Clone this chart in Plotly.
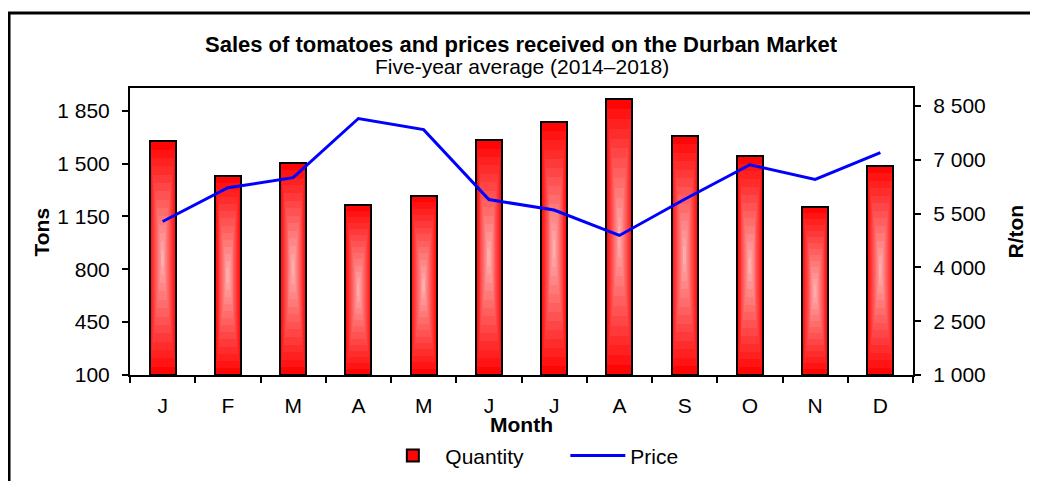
import plotly.graph_objects as go

# ---- data ----
months = ["J", "F", "M", "A", "M", "J", "J", "A", "S", "O", "N", "D"]
quantity = [1648, 1419, 1506, 1227, 1286, 1654, 1772, 1926, 1685, 1552, 1210, 1485]
price = [5280, 6220, 6500, 8150, 7840, 5890, 5600, 4890, 5900, 6860, 6450, 7200]
tons_ticks = [100, 450, 800, 1150, 1500, 1850]
tons_labels = ["100", "450", "800", "1 150", "1 500", "1 850"]
price_ticks = [1000, 2500, 4000, 5500, 7000, 8500]
price_labels = ["1 000", "2 500", "4 000", "5 500", "7 000", "8 500"]

FONT = "Liberation Sans"
FS = 21
x = list(range(len(months)))
axis_min = 100
bar_w = 0.4

fig = go.Figure()

# concentric layers to imitate the path gradient fill of the bars
N = 14
edge = (255, 0, 0)
center_c = (255, 178, 178)
for k in range(N):
    s = 1 - k / N
    f = (k + 0.5) / N
    col = tuple(round(edge[i] + (center_c[i] - edge[i]) * f) for i in range(3))
    mids = [(axis_min + q) / 2 for q in quantity]
    heights = [s * (q - axis_min) for q in quantity]
    bases = [m - h / 2 for m, h in zip(mids, heights)]
    fig.add_trace(go.Bar(
        x=x, y=heights, base=bases, width=bar_w * s,
        marker=dict(color="rgb(%d,%d,%d)" % col,
                    line=dict(color="black", width=2 if k == 0 else 0)),
        name="Quantity", showlegend=(k == 0), hoverinfo="skip",
    ))

# outline on top
fig.add_trace(go.Bar(
    x=x, y=[q - axis_min for q in quantity], base=[axis_min] * len(quantity),
    width=bar_w, marker=dict(color="rgba(0,0,0,0)", line=dict(color="black", width=2)),
    showlegend=False, hoverinfo="skip",
))

fig.add_trace(go.Scatter(
    x=x, y=price, mode="lines", name="Price", yaxis="y2",
    line=dict(color="#0000FF", width=3),
))

axis_common = dict(
    showline=True, linecolor="black", linewidth=2,
    ticks="outside", ticklen=6, tickwidth=2, tickcolor="black",
    showgrid=False, zeroline=False,
    tickfont=dict(family=FONT, size=FS, color="black"),
)

fig.update_layout(
    width=1038, height=481,
    margin=dict(l=122, r=133, t=80, b=110),
    paper_bgcolor="white", plot_bgcolor="white",
    barmode="overlay", bargap=0,
    font=dict(family=FONT, size=FS, color="black"),
    xaxis=dict(
        range=[-0.5, 11.5], tickmode="array", tickvals=x, ticktext=months,
        showline=True, linecolor="black", linewidth=2, mirror=True,
        ticks="outside", ticklen=6, tickwidth=2, tickcolor="rgba(0,0,0,0)",
        ticklabelstandoff=5,
        minor=dict(tick0=-0.5, dtick=1, ticks="outside", ticklen=6,
                   tickwidth=2, tickcolor="black", showgrid=False),
        showgrid=False, zeroline=False,
        tickfont=dict(family=FONT, size=FS, color="black"),
    ),
    yaxis=dict(range=[100, 2000], tickmode="array", tickvals=tons_ticks,
               ticktext=tons_labels, ticklabelstandoff=8, **axis_common),
    yaxis2=dict(range=[1000, 9000], tickmode="array", tickvals=price_ticks,
                ticktext=price_labels, overlaying="y", side="right",
                ticklabelstandoff=8, **axis_common),
    legend=dict(orientation="h", x=0.556, xanchor="center", y=-0.282, yanchor="middle",
                font=dict(family=FONT, size=FS, color="black"),
                bgcolor="rgba(0,0,0,0)", traceorder="normal",
                entrywidthmode="pixels", entrywidth=115, itemwidth=55),
    shapes=[dict(type="rect", xref="paper", yref="paper",
                 x0=-0.1545, x1=1.3, y0=-0.6, y1=1.261,
                 line=dict(color="black", width=3), layer="below")],
    annotations=[
        dict(text="<b>Sales of tomatoes and prices received on the Durban Market</b>",
             xref="paper", yref="paper", x=0.5, y=1.15, xanchor="center", yanchor="middle",
             showarrow=False, font=dict(family=FONT, size=22, color="black")),
        dict(text="Five-year average (2014–2018)",
             xref="paper", yref="paper", x=0.5, y=1.074, xanchor="center", yanchor="middle",
             showarrow=False, font=dict(family=FONT, size=FS, color="black")),
        dict(text="<b>Month</b>", xref="paper", yref="paper", x=0.5, y=-0.172,
             xanchor="center", yanchor="middle", showarrow=False,
             font=dict(family=FONT, size=FS, color="black")),
        dict(text="<b>Tons</b>", xref="paper", yref="paper", x=-0.1124, y=0.5,
             xanchor="center", yanchor="middle", textangle=-90, showarrow=False,
             font=dict(family=FONT, size=FS, color="black")),
        dict(text="<b>R/ton</b>", xref="paper", yref="paper", x=1.1315, y=0.5,
             xanchor="center", yanchor="middle", textangle=-90, showarrow=False,
             font=dict(family=FONT, size=FS, color="black")),
    ],
)

fig.write_html("out.html")
